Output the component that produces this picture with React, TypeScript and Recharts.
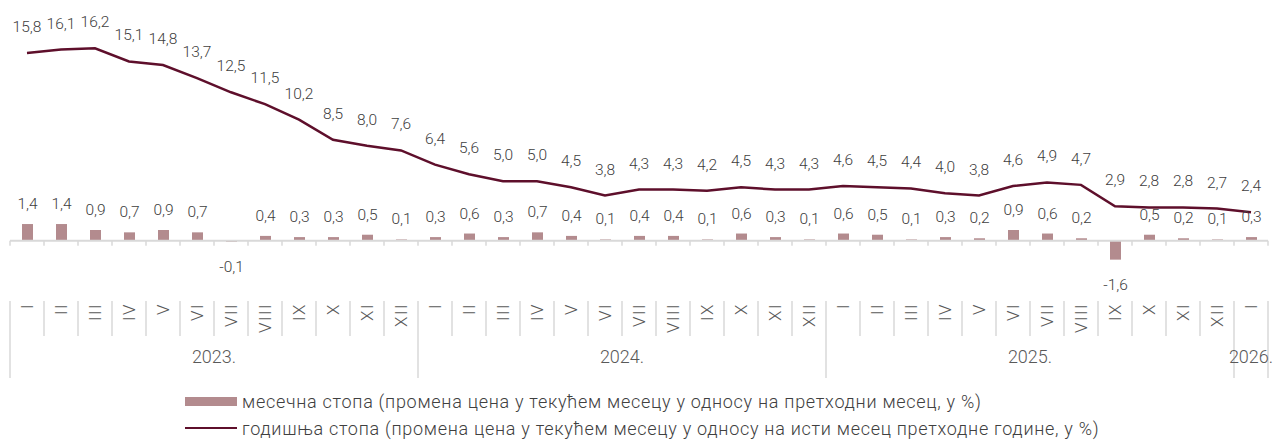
import React from "react";
import { ComposedChart, Bar, Line, XAxis, YAxis, ReferenceLine } from "recharts";

const monthLabels = [
  "I", "II", "III", "IV", "V", "VI", "VII", "VIII", "IX", "X", "XI", "XII",
  "I", "II", "III", "IV", "V", "VI", "VII", "VIII", "IX", "X", "XI", "XII",
  "I", "II", "III", "IV", "V", "VI", "VII", "VIII", "IX", "X", "XI", "XII",
  "I",
];
const yearLabels = ["2023.", "2024.", "2025.", "2026."];
const yearSpans = [12, 12, 12, 1];

const monthlyRate = [
  1.4, 1.4, 0.9, 0.7, 0.9, 0.7, -0.1, 0.4, 0.3, 0.3, 0.5, 0.1,
  0.3, 0.6, 0.3, 0.7, 0.4, 0.1, 0.4, 0.4, 0.1, 0.6, 0.3, 0.1,
  0.6, 0.5, 0.1, 0.3, 0.2, 0.9, 0.6, 0.2, -1.6, 0.5, 0.2, 0.1,
  0.3,
];
const annualRate = [
  15.8, 16.1, 16.2, 15.1, 14.8, 13.7, 12.5, 11.5, 10.2, 8.5, 8.0, 7.6,
  6.4, 5.6, 5.0, 5.0, 4.5, 3.8, 4.3, 4.3, 4.2, 4.5, 4.3, 4.3,
  4.6, 4.5, 4.4, 4.0, 3.8, 4.6, 4.9, 4.7, 2.9, 2.8, 2.8, 2.7,
  2.4,
];
const seriesNames = [
  "месечна стопа (промена цена у текућем месецу у односу на претходни месец, у %)",
  "годишња стопа (промена цена у текућем месецу у односу на исти месец претходне године, у %)",
];

// build table
const yearStarts: number[] = [];
{
  let s = 0;
  yearSpans.forEach((n) => {
    yearStarts.push(s);
    s += n;
  });
}
const data = monthLabels.map((m, i) => {
  let yi = 0;
  for (let k = 0; k < yearStarts.length; k++) if (i >= yearStarts[k]) yi = k;
  return { key: `${yearLabels[yi]}-${m}-${i}`, monthly: monthlyRate[i], annual: annualRate[i] };
});

const CHART_W = 1273;
const CHART_H = 380;
const MARGIN = { top: 19, right: 13, bottom: 8, left: 2 };
const XAXIS_H = 80;
const PLOT_W = CHART_W - MARGIN.left - MARGIN.right;
const PLOT_H = CHART_H - MARGIN.top - MARGIN.bottom - XAXIS_H;
const BAND = PLOT_W / data.length;
const Y_MIN = -5;
const Y_MAX = 18;

const FONT = "Roboto, 'Open Sans', sans-serif";
const LABEL_COLOR = "#404040";
const AXIS_TEXT = "#595959";
const GRID = "#d9d9d9";
const BAR_COLOR = "#b38b8e";
const LINE_COLOR = "#5e0f2b";

const fmt = (v: number) => v.toFixed(1).replace(".", ",");

const MonthTick = (props: any) => {
  const { x, y, index } = props;
  const i = index as number;
  const left = x - BAND / 2;
  const right = x + BAND / 2;
  const zeroY = y - (PLOT_H * (0 - Y_MIN)) / (Y_MAX - Y_MIN);
  const isYearStart = yearStarts.includes(i);
  const isLast = i === data.length - 1;
  const yIdx = yearStarts.indexOf(i);
  const elems: any[] = [];
  elems.push(<line key="zt" x1={left} x2={left} y1={zeroY} y2={zeroY + 5} stroke={GRID} strokeWidth={1.5} />);
  if (isLast) elems.push(<line key="ztr" x1={right} x2={right} y1={zeroY} y2={zeroY + 5} stroke={GRID} strokeWidth={1.5} />);
  elems.push(
    <line key="sep" x1={left} x2={left} y1={y + 1} y2={isYearStart ? y + 78 : y + 36} stroke={GRID} strokeWidth={1.5} />
  );
  if (isLast) elems.push(<line key="sepr" x1={right} x2={right} y1={y + 1} y2={y + 78} stroke={GRID} strokeWidth={1.5} />);
  elems.push(
    <text
      key="m"
      transform={`translate(${x},${y + 3}) rotate(-90)`}
      textAnchor="end"
      dominantBaseline="central"
      fill={AXIS_TEXT}
      fontSize={17}
      fontWeight={300}
      fontFamily={FONT}
      letterSpacing={1.5}
    >
      {monthLabels[i]}
    </text>
  );
  if (yIdx >= 0) {
    const cx = x + ((yearSpans[yIdx] - 1) / 2) * BAND;
    elems.push(
      <text key="y" x={cx} y={y + 56} textAnchor="middle" dominantBaseline="central" fill={AXIS_TEXT} fontSize={18} fontWeight={300} fontFamily={FONT}>
        {yearLabels[yIdx]}
      </text>
    );
  }
  return <g>{elems}</g>;
};

const BarLabel = (props: any) => {
  const { x, y, width, height, value } = props;
  const top = Math.min(y, y + height);
  const bottom = Math.max(y, y + height);
  const cy = value >= 0 ? top - 20 : bottom + 25;
  return (
    <text x={x + width / 2} y={cy} textAnchor="middle" dominantBaseline="central" fill={LABEL_COLOR} fontSize={15.5} fontWeight={300} fontFamily={FONT}>
      {fmt(value)}
    </text>
  );
};

const LineLabel = (props: any) => {
  const { x, y, value } = props;
  return (
    <text x={x} y={y - 26} textAnchor="middle" dominantBaseline="central" fill={LABEL_COLOR} fontSize={15.5} fontWeight={300} fontFamily={FONT}>
      {fmt(value)}
    </text>
  );
};

export default function App() {
  return (
    <div style={{ position: "relative", width: CHART_W, height: 432, fontFamily: FONT }}>
      <ComposedChart width={CHART_W} height={CHART_H} data={data} margin={MARGIN}>
        <XAxis
          dataKey="key"
          height={XAXIS_H}
          interval={0}
          axisLine={false}
          tickLine={false}
          tickSize={0}
          tickMargin={0}
          tick={<MonthTick />}
        />
        <YAxis hide domain={[Y_MIN, Y_MAX]} allowDataOverflow />
        <ReferenceLine y={0} stroke={GRID} strokeWidth={2} />
        <Bar dataKey="monthly" fill={BAR_COLOR} barSize={11} isAnimationActive={false} label={<BarLabel />} />
        <Line
          dataKey="annual"
          type="linear"
          stroke={LINE_COLOR}
          strokeWidth={2.5}
          dot={false}
          activeDot={false}
          isAnimationActive={false}
          label={<LineLabel />}
        />
      </ComposedChart>
      <div style={{ position: "absolute", left: 0, top: 384, width: CHART_W, color: LABEL_COLOR, fontSize: 18, fontWeight: 300, letterSpacing: 0.72 }}>
        <div style={{ position: "absolute", left: 177, top: 0, height: 18, display: "flex", alignItems: "center", whiteSpace: "nowrap" }}>
          <span style={{ display: "inline-block", width: 52, height: 9, background: BAR_COLOR, marginRight: 5 }} />
          <span>{seriesNames[0]}</span>
        </div>
        <div style={{ position: "absolute", left: 177, top: 27, height: 18, display: "flex", alignItems: "center", whiteSpace: "nowrap" }}>
          <span style={{ display: "inline-block", width: 52, height: 2.5, background: LINE_COLOR, marginRight: 5 }} />
          <span>{seriesNames[1]}</span>
        </div>
      </div>
    </div>
  );
}
